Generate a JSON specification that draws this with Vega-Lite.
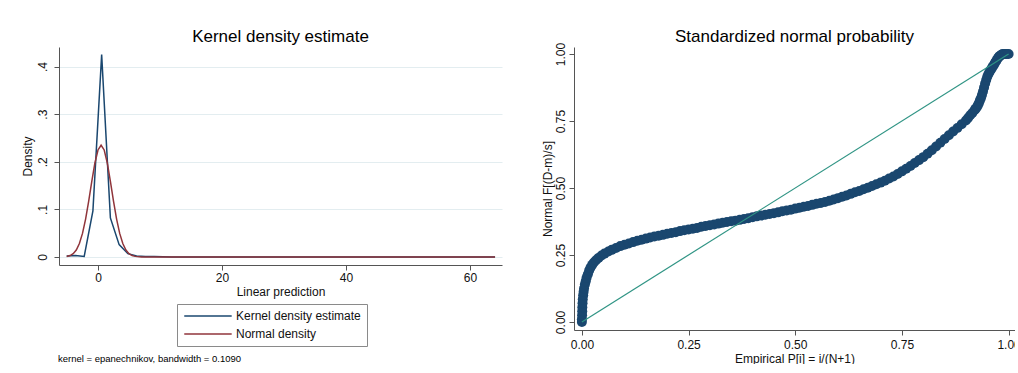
{
  "$schema": "https://vega.github.io/schema/vega-lite/v6.json",
  "background": "white",
  "padding": {"left": 21, "top": 27, "right": -6, "bottom": 0},
  "config": {
    "font": "Liberation Sans",
    "view": {"stroke": null},
    "title": {"fontSize": 17, "fontWeight": "normal", "color": "#000", "offset": 1.5},
    "axis": {
      "domainColor": "#555", "tickColor": "#555", "tickSize": 5,
      "labelFontSize": 12, "titleFontSize": 12, "titleFontWeight": "normal",
      "labelColor": "#111", "titleColor": "#111", "grid": false
    },
    "concat": {"spacing": 39}
  },
  "hconcat": [
    {
      "title": {"text": "kernel = epanechnikov, bandwidth = 0.1090", "orient": "bottom", "anchor": "start", "fontSize": 9.5, "offset": 57, "dx": 37},
      "vconcat": [
        {
          "width": 443,
          "height": 218,
          "title": "Kernel density estimate",
          "data": {
            "values": [
              {"x": -5.05, "density": 0.002, "series": "Kernel density estimate"},
              {"x": -3.64, "density": 0.003, "series": "Kernel density estimate"},
              {"x": -2.23, "density": 0.001, "series": "Kernel density estimate"},
              {"x": -0.82, "density": 0.097, "series": "Kernel density estimate"},
              {"x": 0.59, "density": 0.425, "series": "Kernel density estimate"},
              {"x": 2.0, "density": 0.082, "series": "Kernel density estimate"},
              {"x": 3.41, "density": 0.026, "series": "Kernel density estimate"},
              {"x": 4.82, "density": 0.007, "series": "Kernel density estimate"},
              {"x": 6.23, "density": 0.002, "series": "Kernel density estimate"},
              {"x": 7.64, "density": 0.001, "series": "Kernel density estimate"},
              {"x": 9.05, "density": 0.001, "series": "Kernel density estimate"},
              {"x": 10.46, "density": 0.0005, "series": "Kernel density estimate"},
              {"x": 11.87, "density": 0, "series": "Kernel density estimate"},
              {"x": 13.28, "density": 0, "series": "Kernel density estimate"},
              {"x": 14.69, "density": 0, "series": "Kernel density estimate"},
              {"x": 16.1, "density": 0, "series": "Kernel density estimate"},
              {"x": 17.51, "density": 0, "series": "Kernel density estimate"},
              {"x": 18.92, "density": 0, "series": "Kernel density estimate"},
              {"x": 20.33, "density": 0, "series": "Kernel density estimate"},
              {"x": 21.74, "density": 0, "series": "Kernel density estimate"},
              {"x": 23.15, "density": 0, "series": "Kernel density estimate"},
              {"x": 24.56, "density": 0, "series": "Kernel density estimate"},
              {"x": 25.97, "density": 0, "series": "Kernel density estimate"},
              {"x": 27.38, "density": 0, "series": "Kernel density estimate"},
              {"x": 28.79, "density": 0, "series": "Kernel density estimate"},
              {"x": 30.2, "density": 0, "series": "Kernel density estimate"},
              {"x": 31.61, "density": 0, "series": "Kernel density estimate"},
              {"x": 33.02, "density": 0, "series": "Kernel density estimate"},
              {"x": 34.43, "density": 0, "series": "Kernel density estimate"},
              {"x": 35.84, "density": 0, "series": "Kernel density estimate"},
              {"x": 37.25, "density": 0, "series": "Kernel density estimate"},
              {"x": 38.66, "density": 0, "series": "Kernel density estimate"},
              {"x": 40.07, "density": 0, "series": "Kernel density estimate"},
              {"x": 41.48, "density": 0, "series": "Kernel density estimate"},
              {"x": 42.89, "density": 0, "series": "Kernel density estimate"},
              {"x": 44.3, "density": 0, "series": "Kernel density estimate"},
              {"x": 45.71, "density": 0, "series": "Kernel density estimate"},
              {"x": 47.12, "density": 0, "series": "Kernel density estimate"},
              {"x": 48.53, "density": 0, "series": "Kernel density estimate"},
              {"x": 49.94, "density": 0, "series": "Kernel density estimate"},
              {"x": 51.35, "density": 0, "series": "Kernel density estimate"},
              {"x": 52.76, "density": 0, "series": "Kernel density estimate"},
              {"x": 54.17, "density": 0, "series": "Kernel density estimate"},
              {"x": 55.58, "density": 0, "series": "Kernel density estimate"},
              {"x": 56.99, "density": 0, "series": "Kernel density estimate"},
              {"x": 58.4, "density": 0, "series": "Kernel density estimate"},
              {"x": 59.81, "density": 0, "series": "Kernel density estimate"},
              {"x": 61.22, "density": 0, "series": "Kernel density estimate"},
              {"x": 62.63, "density": 0, "series": "Kernel density estimate"},
              {"x": 64.04, "density": 0, "series": "Kernel density estimate"},
              {"x": -5.05, "density": 0.0011, "series": "Normal density"},
              {"x": -4.5, "density": 0.0031, "series": "Normal density"},
              {"x": -4.0, "density": 0.0071, "series": "Normal density"},
              {"x": -3.5, "density": 0.0147, "series": "Normal density"},
              {"x": -3.0, "density": 0.0282, "series": "Normal density"},
              {"x": -2.5, "density": 0.0495, "series": "Normal density"},
              {"x": -2.0, "density": 0.0796, "series": "Normal density"},
              {"x": -1.5, "density": 0.1175, "series": "Normal density"},
              {"x": -1.0, "density": 0.159, "series": "Normal density"},
              {"x": -0.5, "density": 0.1974, "series": "Normal density"},
              {"x": 0.0, "density": 0.2248, "series": "Normal density"},
              {"x": 0.5, "density": 0.2347, "series": "Normal density"},
              {"x": 1.0, "density": 0.2248, "series": "Normal density"},
              {"x": 1.5, "density": 0.1974, "series": "Normal density"},
              {"x": 2.0, "density": 0.159, "series": "Normal density"},
              {"x": 2.5, "density": 0.1175, "series": "Normal density"},
              {"x": 3.0, "density": 0.0796, "series": "Normal density"},
              {"x": 3.5, "density": 0.0495, "series": "Normal density"},
              {"x": 4.0, "density": 0.0282, "series": "Normal density"},
              {"x": 4.5, "density": 0.0147, "series": "Normal density"},
              {"x": 5.0, "density": 0.0071, "series": "Normal density"},
              {"x": 5.5, "density": 0.0031, "series": "Normal density"},
              {"x": 6.0, "density": 0.0013, "series": "Normal density"},
              {"x": 7.0, "density": 0.0002, "series": "Normal density"},
              {"x": 8.0, "density": 0, "series": "Normal density"},
              {"x": 20.0, "density": 0, "series": "Normal density"},
              {"x": 40.0, "density": 0, "series": "Normal density"},
              {"x": 64.04, "density": 0, "series": "Normal density"}
            ]
          },
          "mark": {"type": "line", "strokeWidth": 1.5},
          "encoding": {
            "x": {
              "field": "x", "type": "quantitative",
              "scale": {"domain": [-6.29, 65.16], "nice": false, "zero": false},
              "axis": {"values": [0, 20, 40, 60], "title": "Linear prediction", "labelPadding": 2, "titlePadding": 3}
            },
            "y": {
              "field": "density", "type": "quantitative",
              "scale": {"domain": [-0.0168, 0.441], "nice": false},
              "axis": {
                "values": [0, 0.1, 0.2, 0.3, 0.4],
                "grid": true, "gridColor": "#e3edf0",
                "labelAngle": -90, "labelAlign": "center", "labelBaseline": "bottom", "labelPadding": 5,
                "labelExpr": "datum.value == 0 ? '0' : replace(format(datum.value, '.1f'), '0.', '.')",
                "title": "Density", "titlePadding": 2
              }
            },
            "color": {
              "field": "series", "type": "nominal",
              "scale": {"domain": ["Kernel density estimate", "Normal density"], "range": ["#1a476f", "#90353b"]},
              "legend": {
                "title": null, "orient": "none", "legendX": 118, "legendY": 257, "direction": "vertical",
                "strokeColor": "#8a8a8a", "padding": 6,
                "symbolType": "M-1,0H9", "symbolSize": 90, "symbolStrokeWidth": 1.5,
                "labelFontSize": 12, "labelOffset": 41, "rowPadding": 6, "labelColor": "#111"
              }
            }
          }
        }
      ]
    },
    {
      "width": 441,
      "height": 283,
      "title": {"text": "Standardized normal probability", "dy": 5},
      "layer": [
        {
          "data": {
            "values": [
              {"p": 0, "f": 0}, {"p": 0, "f": 0.01}, {"p": 0.0005, "f": 0.025}, {"p": 0.0008, "f": 0.04},
              {"p": 0.001, "f": 0.055}, {"p": 0.0015, "f": 0.07}, {"p": 0.002, "f": 0.085}, {"p": 0.003, "f": 0.1},
              {"p": 0.004, "f": 0.113}, {"p": 0.005, "f": 0.125}, {"p": 0.007, "f": 0.14}, {"p": 0.009, "f": 0.152},
              {"p": 0.011, "f": 0.165}, {"p": 0.014, "f": 0.178}, {"p": 0.017, "f": 0.192}, {"p": 0.02, "f": 0.202},
              {"p": 0.024, "f": 0.213}, {"p": 0.028, "f": 0.222}, {"p": 0.033, "f": 0.23}, {"p": 0.039, "f": 0.239},
              {"p": 0.046, "f": 0.248}, {"p": 0.053, "f": 0.255}, {"p": 0.062, "f": 0.263}, {"p": 0.07, "f": 0.269},
              {"p": 0.08, "f": 0.276}, {"p": 0.09, "f": 0.283},
              {"p": 0.1, "f": 0.288}, {"p": 0.11, "f": 0.293}, {"p": 0.12, "f": 0.298}, {"p": 0.13, "f": 0.303},
              {"p": 0.14, "f": 0.307}, {"p": 0.15, "f": 0.311}, {"p": 0.16, "f": 0.315}, {"p": 0.17, "f": 0.319},
              {"p": 0.18, "f": 0.322}, {"p": 0.19, "f": 0.325}, {"p": 0.2, "f": 0.329}, {"p": 0.21, "f": 0.332},
              {"p": 0.22, "f": 0.335}, {"p": 0.23, "f": 0.339}, {"p": 0.24, "f": 0.342}, {"p": 0.25, "f": 0.345},
              {"p": 0.26, "f": 0.348}, {"p": 0.27, "f": 0.351}, {"p": 0.28, "f": 0.355}, {"p": 0.29, "f": 0.358},
              {"p": 0.3, "f": 0.361}, {"p": 0.31, "f": 0.364}, {"p": 0.32, "f": 0.367}, {"p": 0.33, "f": 0.37},
              {"p": 0.34, "f": 0.373}, {"p": 0.35, "f": 0.376}, {"p": 0.36, "f": 0.378}, {"p": 0.37, "f": 0.381},
              {"p": 0.38, "f": 0.384}, {"p": 0.39, "f": 0.387}, {"p": 0.4, "f": 0.391}, {"p": 0.41, "f": 0.394},
              {"p": 0.42, "f": 0.397}, {"p": 0.43, "f": 0.4}, {"p": 0.44, "f": 0.403}, {"p": 0.45, "f": 0.406},
              {"p": 0.46, "f": 0.409}, {"p": 0.47, "f": 0.413}, {"p": 0.48, "f": 0.416}, {"p": 0.49, "f": 0.419},
              {"p": 0.5, "f": 0.423}, {"p": 0.51, "f": 0.426}, {"p": 0.52, "f": 0.43}, {"p": 0.53, "f": 0.433},
              {"p": 0.54, "f": 0.437}, {"p": 0.55, "f": 0.441}, {"p": 0.56, "f": 0.444}, {"p": 0.57, "f": 0.448},
              {"p": 0.58, "f": 0.452}, {"p": 0.59, "f": 0.457}, {"p": 0.6, "f": 0.462}, {"p": 0.61, "f": 0.467},
              {"p": 0.62, "f": 0.472}, {"p": 0.63, "f": 0.478}, {"p": 0.64, "f": 0.484}, {"p": 0.65, "f": 0.489},
              {"p": 0.66, "f": 0.495}, {"p": 0.67, "f": 0.501}, {"p": 0.68, "f": 0.507}, {"p": 0.69, "f": 0.514},
              {"p": 0.7, "f": 0.52}, {"p": 0.71, "f": 0.527}, {"p": 0.72, "f": 0.535}, {"p": 0.73, "f": 0.543},
              {"p": 0.74, "f": 0.552}, {"p": 0.75, "f": 0.562}, {"p": 0.76, "f": 0.572}, {"p": 0.77, "f": 0.582},
              {"p": 0.78, "f": 0.593}, {"p": 0.79, "f": 0.604}, {"p": 0.8, "f": 0.615}, {"p": 0.81, "f": 0.628},
              {"p": 0.82, "f": 0.641}, {"p": 0.83, "f": 0.655}, {"p": 0.84, "f": 0.669}, {"p": 0.85, "f": 0.683},
              {"p": 0.86, "f": 0.697}, {"p": 0.87, "f": 0.711}, {"p": 0.88, "f": 0.724}, {"p": 0.89, "f": 0.738},
              {"p": 0.9, "f": 0.752}, {"p": 0.905, "f": 0.761}, {"p": 0.91, "f": 0.771}, {"p": 0.915, "f": 0.78},
              {"p": 0.92, "f": 0.79}, {"p": 0.9225, "f": 0.795}, {"p": 0.925, "f": 0.8}, {"p": 0.9275, "f": 0.807},
              {"p": 0.93, "f": 0.815}, {"p": 0.9325, "f": 0.825}, {"p": 0.935, "f": 0.835}, {"p": 0.9375, "f": 0.847},
              {"p": 0.94, "f": 0.86}, {"p": 0.9425, "f": 0.875}, {"p": 0.945, "f": 0.89}, {"p": 0.9475, "f": 0.903},
              {"p": 0.95, "f": 0.915}, {"p": 0.9525, "f": 0.924}, {"p": 0.955, "f": 0.932}, {"p": 0.9575, "f": 0.939},
              {"p": 0.96, "f": 0.945}, {"p": 0.9625, "f": 0.952}, {"p": 0.965, "f": 0.958}, {"p": 0.9675, "f": 0.965},
              {"p": 0.97, "f": 0.972}, {"p": 0.9725, "f": 0.978}, {"p": 0.975, "f": 0.985}, {"p": 0.9775, "f": 0.99},
              {"p": 0.98, "f": 0.993}, {"p": 0.983, "f": 0.997}, {"p": 0.986, "f": 1.0}, {"p": 0.99, "f": 1.0},
              {"p": 0.993, "f": 1.0}, {"p": 0.996, "f": 1.0}, {"p": 1.0, "f": 1.0}
            ]
          },
          "mark": {"type": "circle", "size": 100, "opacity": 1, "color": "#1a476f"},
          "encoding": {
            "x": {
              "field": "p", "type": "quantitative",
              "scale": {"domain": [-0.0185, 1.015], "nice": false, "zero": false},
              "axis": {"values": [0, 0.25, 0.5, 0.75, 1], "format": ".2f", "title": "Empirical P[i] = i/(N+1)", "labelPadding": 4, "titlePadding": 3}
            },
            "y": {
              "field": "f", "type": "quantitative",
              "scale": {"domain": [-0.03, 1.026], "nice": false, "zero": false},
              "axis": {
                "values": [0, 0.25, 0.5, 0.75, 1], "format": ".2f",
                "labelAngle": -90, "labelAlign": "center", "labelBaseline": "bottom", "labelPadding": 2,
                "title": "Normal F[(D-m)/s]", "titlePadding": 0
              }
            }
          }
        },
        {
          "data": {"values": [{"p": 0, "f": 0}, {"p": 1, "f": 1}]},
          "mark": {"type": "line", "color": "#2f9484", "strokeWidth": 1.2},
          "encoding": {
            "x": {"field": "p", "type": "quantitative"},
            "y": {"field": "f", "type": "quantitative"}
          }
        }
      ]
    }
  ]
}
